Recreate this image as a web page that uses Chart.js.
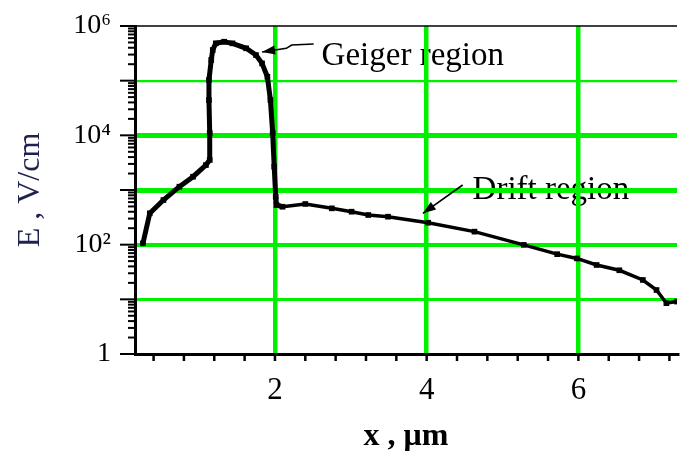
<!DOCTYPE html>
<html lang="en">
<head>
  <meta charset="UTF-8">
  <title>Field profile</title>
  <script src="https://cdn.jsdelivr.net/npm/chart.js"></script>
  <style>
    body {
      margin: 0;
      background: #fff;
    }
    canvas {
      display: block;
    }
  </style>
</head>
<body>
  <canvas id="fieldChart" width="681" height="451"></canvas>

  <script>
    // depth, um
    const xValues = [0.26, 0.35, 0.53, 0.74, 0.92, 1.09, 1.14, 1.14, 1.13, 1.13, 1.16, 1.18, 1.22, 1.33, 1.44,
      1.62, 1.75, 1.83, 1.90, 1.94, 1.97, 1.99, 2.01, 2.02, 2.10, 2.40, 2.75, 3.01, 3.23, 3.49, 4.02, 4.63,
      5.28, 5.72, 5.98, 6.24, 6.54, 6.85, 7.03, 7.16, 7.30];
    // field, V/cm
    const fieldValues = [106, 375, 656, 1150, 1750, 2860, 3540, 11000, 44000, 103000, 239000, 364000, 482000, 516000, 482000,
      391000, 294000, 207000, 118000, 44300, 11000, 2670, 754, 531, 494, 555, 462, 401, 349, 325, 252, 173,
      99, 67, 56, 42.5, 34, 22.6, 14.8, 8.5, 9.1];

    const xTicks = [0.4, 0.8, 1.2, 1.6, 2, 2.4, 2.8, 3.2, 3.6, 4, 4.4, 4.8, 5.2, 5.6, 6, 6.4, 6.8, 7.2];
    const xLabeled = [2, 4, 6];
    const yDecades = [1, 10, 100, 1000, 10000, 100000, 1000000];
    const yLabels = ['1', '', '10²', '', '10⁴', '', '10⁶'];

    const GREEN = '#00f000';
    const SERIF = "'Liberation Serif', 'DejaVu Serif', serif";

    function near(a, b) {
      return Math.abs(a - b) < 1e-6;
    }

    function line(ctx, x1, y1, x2, y2) {
      ctx.beginPath();
      ctx.moveTo(x1, y1);
      ctx.lineTo(x2, y2);
      ctx.stroke();
    }

    function arrow(ctx, pts, head) {
      ctx.beginPath();
      ctx.moveTo(pts[0][0], pts[0][1]);
      for (let i = 1; i < pts.length; i++) ctx.lineTo(pts[i][0], pts[i][1]);
      ctx.stroke();
      const [ax, ay] = pts[pts.length - 2];
      const [bx, by] = pts[pts.length - 1];
      const ang = Math.atan2(by - ay, bx - ax);
      ctx.beginPath();
      ctx.moveTo(bx, by);
      ctx.lineTo(bx - head * Math.cos(ang) + head * 0.35 * Math.sin(ang), by - head * Math.sin(ang) - head * 0.35 * Math.cos(ang));
      ctx.lineTo(bx - head * Math.cos(ang) - head * 0.35 * Math.sin(ang), by - head * Math.sin(ang) + head * 0.35 * Math.cos(ang));
      ctx.closePath();
      ctx.fill();
    }

    // labels sit under the grid, ticks and arrows on top
    const decorations = {
      id: 'decorations',
      beforeDraw(chart) {
        const { ctx, scales: { x, y } } = chart;
        if (!x || !y) return;
        ctx.save();
        ctx.fillStyle = '#000';
        ctx.font = '33px ' + SERIF;
        ctx.textBaseline = 'alphabetic';
        ctx.fillText('Geiger region', x.getPixelForValue(2.615), y.getPixelForValue(1.93e5));
        ctx.fillText('Drift region', x.getPixelForValue(4.605), y.getPixelForValue(684));
        ctx.restore();
      },
      afterDatasetsDraw(chart) {
        const { ctx, chartArea: a, scales: { x, y } } = chart;
        ctx.save();
        ctx.strokeStyle = '#000';
        ctx.fillStyle = '#000';

        // top frame line
        ctx.lineWidth = 1.5;
        line(ctx, a.left, a.top, a.right, a.top);

        // y ticks, major and minor
        ctx.lineWidth = 2;
        yDecades.forEach((v, i) => {
          const py = y.getPixelForValue(v);
          line(ctx, a.left - 15, py, a.left, py);
          if (i < yDecades.length - 1) {
            for (let k = 2; k <= 9; k++) {
              const pm = y.getPixelForValue(v * k);
              line(ctx, a.left - 7, pm, a.left, pm);
            }
          }
        });

        // x ticks
        ctx.lineWidth = 2.5;
        xTicks.forEach(v => {
          const px = x.getPixelForValue(v);
          line(ctx, px, a.bottom, px, a.bottom + 7);
        });

        // arrows
        ctx.lineWidth = 1.6;
        arrow(ctx, [
          [x.getPixelForValue(2.51), y.getPixelForValue(4.68e5)],
          [x.getPixelForValue(2.22), y.getPixelForValue(4.5e5)],
          [x.getPixelForValue(2.15), y.getPixelForValue(3.9e5)],
          [x.getPixelForValue(1.83), y.getPixelForValue(3.34e5)]
        ], 13);
        arrow(ctx, [
          [x.getPixelForValue(4.474), y.getPixelForValue(1234)],
          [x.getPixelForValue(3.95), y.getPixelForValue(375)]
        ], 13);
        ctx.restore();
      }
    };

    const points = xValues.map((v, i) => ({ x: v, y: fieldValues[i] }));

    new Chart(document.getElementById('fieldChart').getContext('2d'), {
      type: 'scatter',
      data: {
        datasets: [{
          data: points,
          showLine: true,
          borderColor: '#000',
          backgroundColor: '#000',
          borderWidth: 4,
          // the avalanche part of the curve is drawn heavier in the original
          segment: {
            borderWidth: c => c.p0.parsed.x < 2.05 ? 5 : 3.5
          },
          pointStyle: 'rect',
          pointRadius: 4,
          pointBorderWidth: 0
        }]
      },
      options: {
        responsive: false,
        animation: false,
        layout: { padding: { top: 26, right: 0, bottom: 0, left: 0 } },
        plugins: {
          legend: { display: false },
          tooltip: { enabled: false }
        },
        scales: {
          x: {
            type: 'linear',
            min: 0.155,
            max: 7.3,
            afterBuildTicks: scale => { scale.ticks = xTicks.map(v => ({ value: v })); },
            afterFit: scale => {
              scale.height = 97;
              scale.paddingLeft = 0;
              scale.paddingRight = 0;
            },
            ticks: {
              autoSkip: false,
              maxRotation: 0,
              padding: 18,
              color: '#000',
              font: { family: SERIF, size: 31 },
              callback: v => xLabeled.some(t => near(t, v)) ? String(v) : ''
            },
            grid: {
              drawTicks: false,
              color: c => xLabeled.some(t => near(t, c.tick.value)) ? GREEN : 'rgba(0,0,0,0)',
              lineWidth: 4.5
            },
            border: { display: true, color: '#000', width: 3 },
            title: {
              display: true,
              text: 'x , μm',
              color: '#000',
              font: { family: SERIF, size: 32, weight: 'bold', lineHeight: 0.9 },
              padding: { top: 0, bottom: 0 }
            }
          },
          y: {
            type: 'logarithmic',
            min: 1,
            max: 1000000,
            afterBuildTicks: scale => { scale.ticks = yDecades.map(v => ({ value: v })); },
            afterFit: scale => {
              scale.width = 135;
              scale.paddingTop = 0;
              scale.paddingBottom = 0;
            },
            ticks: {
              autoSkip: false,
              padding: 24,
              color: '#000',
              font: { family: SERIF, size: 28 },
              callback: (v, i) => yLabels[i]
            },
            grid: {
              drawTicks: false,
              color: c => (c.tick.value > 1 && c.tick.value < 1000000) ? GREEN : 'rgba(0,0,0,0)',
              lineWidth: c => {
                const v = c.tick.value;
                if (v === 1000 || v === 10000) return 5;
                if (v === 100) return 4;
                if (v === 10) return 3;
                return 2.2;
              }
            },
            border: { display: true, color: '#000', width: 3 },
            title: {
              display: true,
              text: 'E , V/cm',
              color: '#1e2250',
              font: { family: SERIF, size: 32, lineHeight: 1.2 },
              padding: { top: 11, bottom: 0 }
            }
          }
        }
      },
      plugins: [decorations]
    });
  </script>
</body>
</html>
